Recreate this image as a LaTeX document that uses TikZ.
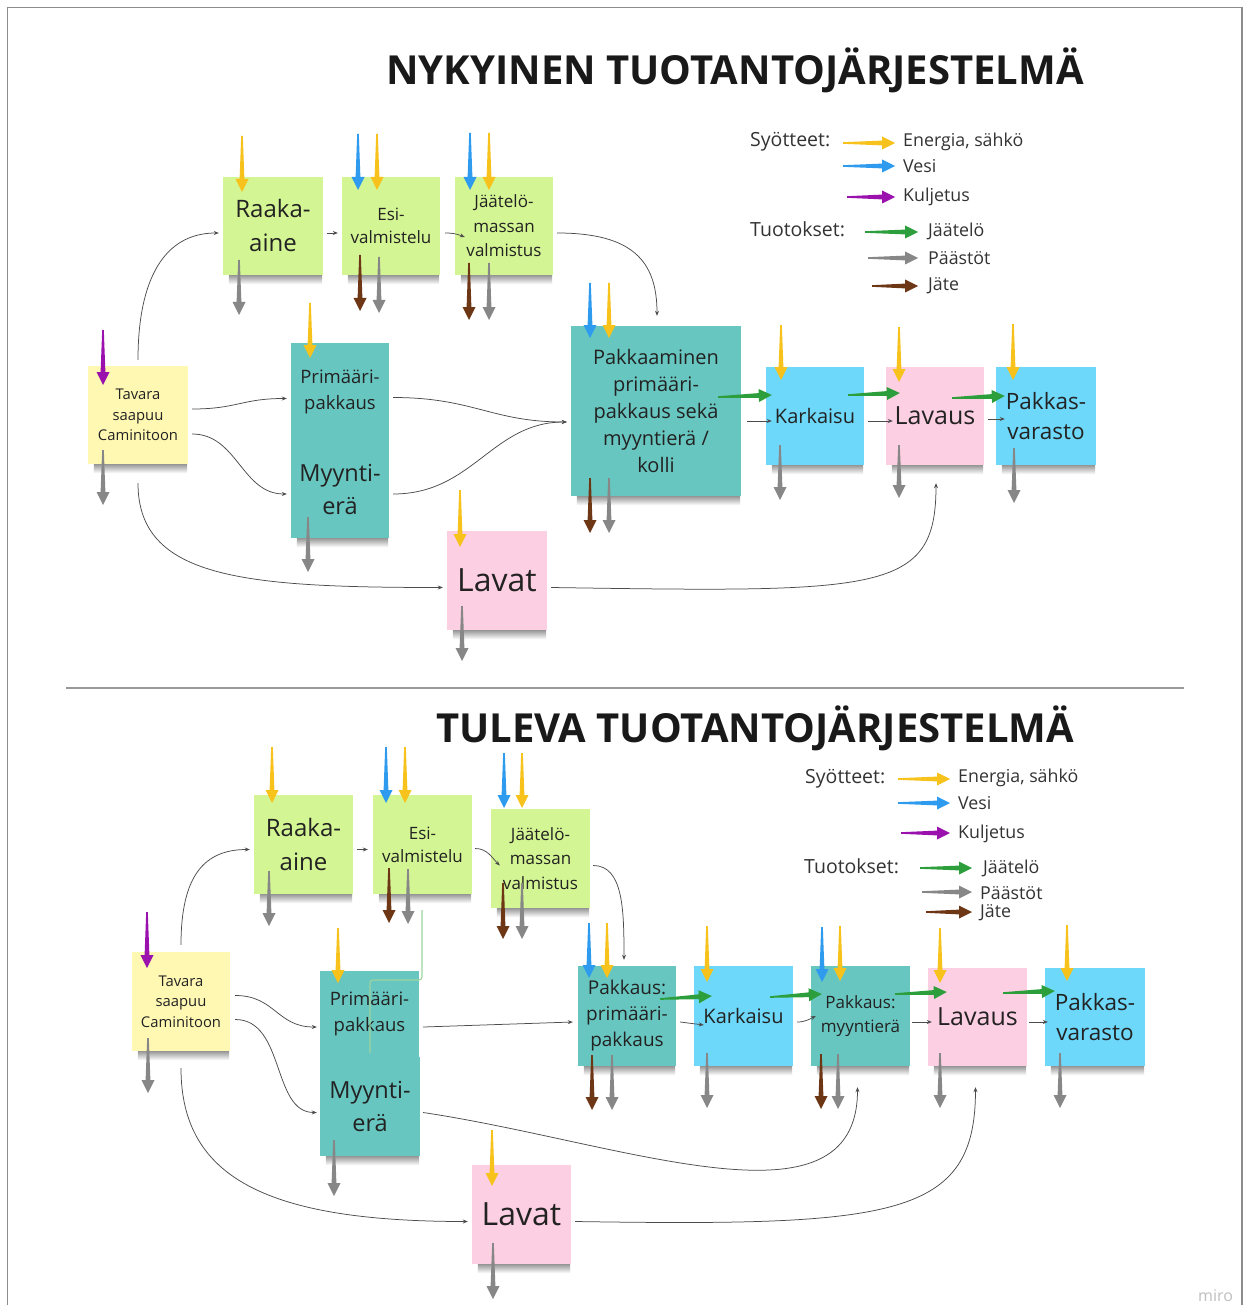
\documentclass[tikz,border=0pt]{standalone}
\usepackage{fontspec}
\setmainfont{Open Sans}
\usetikzlibrary{arrows.meta,calc}
\definecolor{ayel}{HTML}{F7C21B}
\definecolor{ablu}{HTML}{2E9BEF}
\definecolor{apur}{HTML}{9A11AE}
\definecolor{agrn}{HTML}{2C9E3B}
\definecolor{agry}{HTML}{878787}
\definecolor{abrn}{HTML}{6D3716}
\definecolor{nlime}{HTML}{D4F593}
\definecolor{nyel}{HTML}{FEF8B3}
\definecolor{nteal}{HTML}{68C6C0}
\definecolor{nblue}{HTML}{6DD8FA}
\definecolor{npink}{HTML}{FDCFE2}
\definecolor{ink}{HTML}{222222}
\definecolor{lgreen}{HTML}{9FD49F}
\pgfdeclarelayer{bg}
\pgfsetlayers{bg,main}
\newcommand{\flow}[3]{%
  \coordinate (fa) at #2;
  \coordinate (fb) at #3;
  \coordinate (fh) at ($(fb)!13pt!(fa)$);
  \fill[#1] ($(fa)!0.8pt!90:(fb)$) -- ($(fh)!2.4pt!-90:(fa)$) -- ($(fh)!6.5pt!-90:(fa)$) -- (fb) -- ($(fh)!6.5pt!90:(fa)$) -- ($(fh)!2.4pt!90:(fa)$) -- ($(fa)!0.8pt!-90:(fb)$) -- cycle;}
\begin{document}
\begin{tikzpicture}[x=1pt,y=-1pt,
  sticky/.style={inner sep=0pt, align=center, text=ink, minimum width=98pt, minimum height=98pt},
  fs/.style 2 args={font=\fontsize{#1}{#2}\selectfont},
  conn/.style={draw=black!70, line width=0.75pt, -{Stealth[length=5pt,width=4pt]}},
  ttl/.style={font=\fontsize{40}{48}\selectfont\bfseries, text=black!90, anchor=base, inner sep=0pt},
  lgd/.style={anchor=west, inner sep=0pt, text=black!80},
]
\useasboundingbox (0,0) rectangle (1244,1305);
\draw[black!45, line width=1.6pt] (7.5,7.5) rectangle (1242,1330);

% ---------- titles ----------
\node[ttl] (t1) at (735,85) {NYKYINEN TUOTANTOJÄRJESTELMÄ};
\node[ttl] (t2) at (755,742) {TULEVA TUOTANTOJÄRJESTELMÄ};
\draw[black!40, line width=1.5pt] (66,688) -- (1184,688);

% ---------- top notes ----------
\node[sticky, fill=nlime, minimum width=100pt, fs={24}{34}] (traw) at (273,226) {Raaka-\\aine};
\node[sticky, fill=nlime, fs={17}{23}] (tesi) at (391,226) {Esi-\\valmistelu};
\node[sticky, fill=nlime, fs={17}{24.5}] (tmass) at (504,226) {Jäätelö-\\massan\\valmistus};
\node[sticky, fill=nyel, minimum width=100pt, fs={14.8}{20.5}] (ttav) at (138,415) {Tavara\\saapuu\\Caminitoon};
\node[sticky, fill=nteal, minimum height=97pt, fs={18.5}{26}] (tprim) at (340,391.5) {Primääri-\\pakkaus};
\node[sticky, fill=nteal, fs={23.5}{33}] (tmyy) at (340,489) {Myynti-\\erä};
\node[sticky, fill=nteal, minimum width=170pt, minimum height=170pt, fs={20}{27}] (tpak) at (656,411) {Pakkaaminen\\primääri-\\pakkaus sekä\\myyntierä /\\kolli};
\node[sticky, fill=nblue, fs={20}{27}] (tkar) at (815,416) {Karkaisu};
\node[sticky, fill=npink, fs={25}{30}] (tlavs) at (935,416) {Lavaus};
\node[sticky, fill=nblue, minimum width=100pt, fs={22.5}{30}] (tpkv) at (1046,416) {Pakkas-\\varasto};
\node[sticky, fill=npink, minimum width=100pt, minimum height=99pt, fs={32}{40}] (tlavt) at (497,580.5) {Lavat};

% ---------- bottom notes ----------
\node[sticky, fill=nlime, minimum width=99pt, minimum height=99pt, fs={24}{34}] (braw) at (303.5,844.5) {Raaka-\\aine};
\node[sticky, fill=nlime, minimum width=99pt, minimum height=99pt, fs={17}{23}] (besi) at (422.5,844.5) {Esi-\\valmistelu};
\node[sticky, fill=nlime, minimum width=99pt, minimum height=99pt, fs={17}{24.5}] (bmass) at (540.5,858.5) {Jäätelö-\\massan\\valmistus};
\node[sticky, fill=nyel, minimum height=99pt, fs={14.8}{20.5}] (btav) at (181,1001.5) {Tavara\\saapuu\\Caminitoon};
\node[sticky, fill=nteal, minimum width=99pt, minimum height=87pt, fs={18.5}{26}] (bprim) at (369.5,1014) {Primääri-\\pakkaus};
\node[sticky, fill=nteal, minimum width=100pt, minimum height=99pt, fs={23.5}{33}] (bmyy) at (370,1106.5) {Myynti-\\erä};
\node[sticky, fill=nteal, minimum height=100pt, fs={19}{26}] (bpp) at (627,1016) {Pakkaus:\\primääri-\\pakkaus};
\node[sticky, fill=nblue, minimum width=99pt, minimum height=100pt, fs={20}{27}] (bkar) at (743.5,1016) {Karkaisu};
\node[sticky, fill=nteal, minimum width=99pt, minimum height=100pt, fs={17}{24}] (bpm) at (860.5,1016) {Pakkaus:\\myyntierä};
\node[sticky, fill=npink, minimum width=99pt, fs={25}{30}] (blavs) at (977.5,1017) {Lavaus};
\node[sticky, fill=nblue, minimum width=100pt, fs={22.5}{30}] (bpkv) at (1095,1017) {Pakkas-\\varasto};
\node[sticky, fill=npink, minimum width=99pt, minimum height=99pt, fs={32}{40}] (blavt) at (521.5,1214.5) {Lavat};

% ---------- shadows ----------
\begin{pgfonlayer}{bg}
\fill[white] (0,0) rectangle (1244,1305);
\foreach \n in {traw,tesi,tmass,ttav,tprim,tmyy,tpak,tkar,tlavs,tpkv,tlavt,braw,besi,bmass,btav,bprim,bmyy,bpp,bkar,bpm,blavs,bpkv,blavt}{
  \shade[top color=black!45, bottom color=white] ($(\n.south west)+(6,-1)$) rectangle ($(\n.south east)+(-1,9)$);
}
\end{pgfonlayer}

% ---------- top connectors ----------
\draw[conn] ($(ttav.north)+(0,-6)$) .. controls +(0,-80) and +(-55,0) .. ($(traw.west)+(-4,7)$);
\draw[conn] ($(traw.east)+(4,7)$) -- ($(tesi.west)+(-4,7)$);
\draw[conn] ($(tesi.east)+(5,7)$) .. controls +(8,0) and +(-8,-3) .. ($(tmass.west)+(10,11)$);
\draw[conn] ($(tmass.east)+(4,7)$) .. controls +(75,0) and +(0,-55) .. ($(tpak.north)+(1,-10)$);
\draw[conn] ($(ttav.east)+(4,-6)$) .. controls +(45,0) and +(-45,0) .. ($(tprim.west)+(-4,7)$);
\draw[conn] ($(ttav.east)+(4,19)$) .. controls +(45,0) and +(-45,0) .. ($(tmyy.west)+(-4,5)$);
\draw[conn] ($(tprim.east)+(4,6)$) .. controls +(80,0) and +(-75,0) .. ($(tpak.west)+(-4,11)$);
\draw[conn] ($(tmyy.east)+(4,5)$) .. controls +(80,0) and +(-75,0) .. ($(tpak.west)+(-4,11)$);
\draw[conn] ($(ttav.south)+(0,19)$) .. controls +(0,95) and +(-200,0) .. ($(tlavt.west)+(-4,7)$);
\draw[conn] ($(tlavt.east)+(4,7)$) .. controls +(330,5) and +(0,110) .. ($(tlavs.south)+(1,18)$);
\draw[conn] ($(tpak.east)+(6,10)$) -- ($(tkar.west)+(6,5)$);
\draw[conn] ($(tkar.east)+(4,5)$) -- ($(tlavs.west)+(7,5)$);
\draw[conn] ($(tlavs.east)+(4,3)$) -- ($(tpkv.west)+(9,3)$);

% ---------- bottom connectors ----------
\draw[conn] ($(btav.north)+(0,-7)$) .. controls +(0,-70) and +(-45,0) .. ($(braw.west)+(-4,5)$);
\draw[conn] ($(braw.east)+(4,5)$) -- ($(besi.west)+(-5,5)$);
\draw[conn] ($(besi.east)+(3,4)$) .. controls +(12,0) and +(-8,-8) .. ($(bmass.west)+(9,7)$);
\draw[conn] ($(bmass.east)+(3,7)$) .. controls +(30,0) and +(0,-50) .. ($(bpp.north)+(-3,-6)$);
\draw[conn] ($(btav.east)+(5,-6)$) .. controls +(40,0) and +(-40,0) .. ($(bprim.west)+(-3,13)$);
\draw[conn] ($(btav.east)+(5,18)$) .. controls +(50,0) and +(-45,0) .. ($(bmyy.west)+(-3,6)$);
\draw[conn] ($(btav.south)+(0,17)$) .. controls +(0,110) and +(-200,0) .. ($(blavt.west)+(-4,7)$);
\draw[conn] ($(bprim.east)+(4,13)$) -- ($(bpp.west)+(-5,6)$);
\draw[conn] ($(bmyy.east)+(3,6)$) .. controls +(200,30) and +(0,150) .. ($(bpm.south)+(-3,21)$);
\draw[conn] ($(blavt.east)+(4,7)$) .. controls +(320,5) and +(0,130) .. ($(blavs.south)+(-2,21)$);
\draw[conn] ($(bpp.east)+(4,6)$) -- ($(bkar.west)+(10,9)$);
\draw[conn] ($(bkar.east)+(4,6)$) .. controls +(8,0) and +(-6,3) .. ($(bpm.west)+(5,0)$);
\draw[conn] ($(bpm.east)+(2,6)$) -- ($(blavs.west)+(4,5)$);
\draw[conn] ($(blavs.east)+(2,5)$) -- ($(bpkv.west)+(3,5)$);
\draw[lgreen, line width=1.1pt, rounded corners=3pt] (422,910) -- (422,980) -- (370,980) -- (370,1053);

% ---------- top flows ----------
\flow{agrn}{($(tpak.east)+(-23,-14)$)}{($(tkar.west)+(6,-21)$)}
\flow{agrn}{($(tkar.east)+(-16,-21)$)}{($(tlavs.west)+(14,-23)$)}
\flow{agrn}{($(tlavs.east)+(-32,-18)$)}{($(tpkv.west)+(9,-20)$)}
\flow{ayel}{(242,136)}{(242,192)}
\flow{ablu}{(358,134)}{(358,190)} \flow{ayel}{(377,134)}{(377,190)}
\flow{ablu}{(470,133)}{(470,190)} \flow{ayel}{(489,133)}{(489,190)}
\flow{agry}{(239,260)}{(239,315)}
\flow{abrn}{(360,255)}{(360,311)} \flow{agry}{(379,257)}{(379,313)}
\flow{abrn}{(469,263)}{(469,320)} \flow{agry}{(489,263)}{(489,320)}
\flow{apur}{(103,330)}{(103,385)} \flow{agry}{(103,450)}{(103,505)}
\flow{ayel}{(310,303)}{(310,358)} \flow{agry}{(308,517)}{(308,572)}
\flow{ablu}{(590,283)}{(590,338)} \flow{ayel}{(609,283)}{(609,338)}
\flow{abrn}{(590,478)}{(590,533)} \flow{agry}{(609,478)}{(609,533)}
\flow{ayel}{(781,325)}{(781,380)} \flow{agry}{(780,445)}{(780,500)}
\flow{ayel}{(899,327)}{(899,382)} \flow{agry}{(899,445)}{(899,498)}
\flow{ayel}{(1013,324)}{(1013,380)} \flow{agry}{(1014,448)}{(1014,503)}
\flow{ayel}{(460,490)}{(460,547)} \flow{agry}{(462,606)}{(462,661)}

% ---------- bottom flows ----------
\flow{agrn}{($(bpp.east)+(-16,-17)$)}{($(bkar.west)+(18,-20)$)}
\flow{agrn}{($(bkar.east)+(-23,-19)$)}{($(bpm.west)+(11,-22)$)}
\flow{agrn}{($(bpm.east)+(-15,-22)$)}{($(blavs.west)+(19,-25)$)}
\flow{agrn}{($(blavs.east)+(-24,-24)$)}{($(bpkv.west)+(10,-26)$)}
\flow{ayel}{(272,747)}{(272,803)} \flow{agry}{(269,871)}{(269,926)}
\flow{ablu}{(386,747)}{(386,803)} \flow{ayel}{(405,747)}{(405,803)}
\flow{abrn}{(389,868)}{(389,923)} \flow{agry}{(408,869)}{(408,924)}
\flow{ablu}{(504,753)}{(504,808)} \flow{ayel}{(522,753)}{(522,808)}
\flow{abrn}{(503,883)}{(503,939)} \flow{agry}{(522,883)}{(522,939)}
\flow{apur}{(147,912)}{(147,968)} \flow{agry}{(148,1038)}{(148,1093)}
\flow{ayel}{(338,928)}{(338,983)} \flow{agry}{(334,1140)}{(334,1196)}
\flow{ablu}{(589,923)}{(589,978)} \flow{ayel}{(607,923)}{(607,978)}
\flow{abrn}{(592,1055)}{(592,1110)} \flow{agry}{(612,1055)}{(612,1110)}
\flow{ayel}{(707,926)}{(707,982)} \flow{agry}{(707,1053)}{(707,1108)}
\flow{ablu}{(822,927)}{(822,982)} \flow{ayel}{(840,926)}{(840,981)}
\flow{abrn}{(821,1054)}{(821,1109)} \flow{agry}{(838,1054)}{(838,1109)}
\flow{ayel}{(940,928)}{(940,983)} \flow{agry}{(940,1053)}{(940,1108)}
\flow{ayel}{(1067,925)}{(1067,981)} \flow{agry}{(1060,1053)}{(1060,1108)}
\flow{ayel}{(492,1130)}{(492,1186)} \flow{agry}{(493,1243)}{(493,1299)}

% ---------- legend top ----------
\node[lgd, fs={19.5}{24}] (l1s) at (750,142) {Syötteet:};
\flow{ayel}{(843,143)}{(895,143)}
\node[lgd, fs={17.8}{22}] (l1e) at (903,142) {Energia, sähkö};
\flow{ablu}{(843,166)}{(895,166)}
\node[lgd, fs={17.8}{22}] (l1v) at (903,166) {Vesi};
\flow{apur}{(847,197)}{(895,197)}
\node[lgd, fs={17.8}{22}] (l1k) at (903,197) {Kuljetus};
\node[lgd, fs={19.5}{24}] (l1t) at (750,229) {Tuotokset:};
\flow{agrn}{(865,232)}{(918,232)}
\node[lgd, fs={17.8}{22}] (l1j) at (928,231) {Jäätelö};
\flow{agry}{(868,258)}{(918,258)}
\node[lgd, fs={17.8}{22}] (l1p) at (928,258) {Päästöt};
\flow{abrn}{(872,286)}{(918,286)}
\node[lgd, fs={17.8}{22}] (l1x) at (928,286) {Jäte};

% ---------- legend bottom ----------
\node[lgd, fs={19.5}{24}] (l2s) at (805,779) {Syötteet:};
\flow{ayel}{(898,779)}{(950,779)}
\node[lgd, fs={17.8}{22}] (l2e) at (958,778) {Energia, sähkö};
\flow{ablu}{(898,803)}{(950,803)}
\node[lgd, fs={17.8}{22}] (l2v) at (958,803) {Vesi};
\flow{apur}{(901,833)}{(950,833)}
\node[lgd, fs={17.8}{22}] (l2k) at (958,834) {Kuljetus};
\node[lgd, fs={19.5}{24}] (l2t) at (804,866) {Tuotokset:};
\flow{agrn}{(920,868)}{(972,868)}
\node[lgd, fs={17.8}{22}] (l2j) at (983,868) {Jäätelö};
\flow{agry}{(922,892)}{(972,892)}
\node[lgd, fs={17.8}{22}] (l2p) at (980,893) {Päästöt};
\flow{abrn}{(926,912)}{(972,912)}
\node[lgd, fs={17.8}{22}] (l2x) at (980,913) {Jäte};

\node[anchor=base west, inner sep=0pt, text=black!25, fs={16}{20}] (miro) at (1198,1301) {miro};
\end{tikzpicture}
\end{document}
